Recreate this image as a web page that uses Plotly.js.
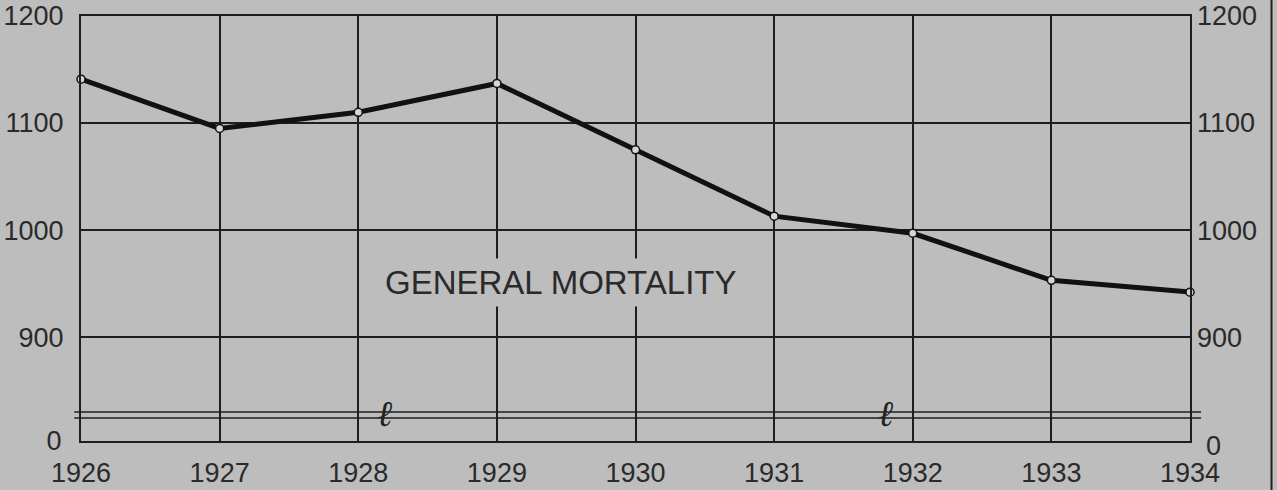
<!DOCTYPE html>
<html>
<head>
<meta charset="utf-8">
<script src="https://cdn.plot.ly/plotly-3.0.1.min.js"></script>
<style>html,body{margin:0;padding:0;background:#bdbdbd;}</style>
</head>
<body>
<div id="chart" style="width:1277px;height:490px;"></div>
<script>
// Data
const years = [1926, 1927, 1928, 1929, 1930, 1931, 1932, 1933, 1934];
const yearLabels = ["1926", "1927", "1928", "1929", "1930", "1931", "1932", "1933", "1934"];
const generalMortality = [1141, 1095, 1110, 1137, 1075, 1013, 997, 953, 942];
const upperTicks = [900, 1000, 1100, 1200];
const upperTickLabels = ["900", "1000", "1100", "1200"];
const lowerTicks = [0];
const lowerTickLabels = ["0"];
const seriesLabel = "GENERAL MORTALITY";

const BG = "#bdbdbd";
const INK = "#1e1e1e";
const TXT = "#2a2a2a";
const FONT = "Liberation Sans, Arial, sans-serif";

const brk = 29 / 425; // fraction of plot height used by the lower (0) band

const traces = [
  {
    x: years, y: generalMortality, xaxis: "x", yaxis: "y",
    type: "scatter", mode: "lines+markers", cliponaxis: false,
    line: {color: "#111", width: 5},
    marker: {symbol: "circle", size: 8, color: "#d6d6d6", line: {color: "#111", width: 1.5}},
    hoverinfo: "x+y", showlegend: false
  },
  {x: [], y: [], xaxis: "x", yaxis: "y3", showlegend: false, hoverinfo: "skip"},
  {x: [], y: [], xaxis: "x2", yaxis: "y2", showlegend: false, hoverinfo: "skip"},
  {x: [], y: [], xaxis: "x2", yaxis: "y4", showlegend: false, hoverinfo: "skip"}
];

const axisFont = {family: FONT, size: 27, color: TXT};

const layout = {
  width: 1277, height: 490,
  margin: {l: 81, r: 87, t: 16, b: 49, pad: 0},
  paper_bgcolor: BG, plot_bgcolor: BG,
  showlegend: false,
  font: {family: FONT, color: TXT},
  xaxis: {
    domain: [0, 1], anchor: "y", side: "top", range: [1926, 1934],
    tickvals: years, showticklabels: false, ticks: "",
    showgrid: true, gridcolor: INK, gridwidth: 2,
    showline: true, mirror: false, linecolor: INK, linewidth: 2, zeroline: false
  },
  xaxis2: {
    domain: [0, 1], anchor: "y2", matches: "x", range: [1926, 1934],
    tickvals: years, ticktext: yearLabels, ticks: "",
    tickfont: axisFont, ticklabelstandoff: 7,
    showgrid: true, gridcolor: INK, gridwidth: 2,
    showline: true, mirror: false, linecolor: INK, linewidth: 2, zeroline: false
  },
  yaxis: {
    domain: [brk, 1], anchor: "x", range: [830, 1200],
    tickvals: upperTicks, ticktext: upperTickLabels, ticks: "",
    tickfont: axisFont, ticklabelstandoff: 10,
    showgrid: true, gridcolor: INK, gridwidth: 2,
    showline: true, mirror: true, linecolor: INK, linewidth: 2, zeroline: false
  },
  yaxis3: {
    overlaying: "y", side: "right", anchor: "x", range: [830, 1200],
    tickvals: upperTicks, ticktext: upperTickLabels, ticks: "",
    tickfont: axisFont, ticklabelstandoff: 6,
    showgrid: false, showline: false, zeroline: false
  },
  yaxis2: {
    domain: [0, brk], anchor: "x2", range: [0, 10],
    tickvals: lowerTicks, ticktext: lowerTickLabels, ticks: "",
    tickfont: axisFont, ticklabelstandoff: 12,
    showgrid: false, showline: true, mirror: true, linecolor: INK, linewidth: 2, zeroline: false
  },
  yaxis4: {
    overlaying: "y2", side: "right", anchor: "x2", range: [0, 10],
    tickvals: lowerTicks, ticktext: lowerTickLabels, ticks: "",
    tickfont: axisFont, ticklabelstandoff: 15, ticklabelshift: 5,
    showgrid: false, showline: false, zeroline: false
  },
  shapes: [
    {type: "line", xref: "paper", yref: "paper", x0: -0.006, x1: 1.01, y0: brk, y1: brk,
     line: {color: INK, width: 1.5}},
    {type: "line", xref: "paper", yref: "paper", x0: -0.006, x1: 1.01, y0: 23 / 425, y1: 23 / 425,
     line: {color: INK, width: 1.5}},
    {type: "line", xref: "paper", yref: "paper", x0: 1.0735, x1: 1.0735, y0: -0.2, y1: 1.1,
     line: {color: "#222", width: 2}}
  ],
  annotations: [
    {text: seriesLabel, xref: "x", yref: "y", x: 1929.46, y: 951, showarrow: false,
     font: {family: FONT, size: 33, color: TXT}, bgcolor: BG, borderpad: 5},
    {text: "<i>ℓ</i>", xref: "x", yref: "paper", x: 1928.19, y: 5 / 425, showarrow: false,
     font: {family: "DejaVu Serif, serif", size: 36, color: "#222"}},
    {text: "<i>ℓ</i>", xref: "x", yref: "paper", x: 1931.8, y: 5 / 425, showarrow: false,
     font: {family: "DejaVu Serif, serif", size: 36, color: "#222"}}
  ]
};

Plotly.newPlot("chart", traces, layout, {displayModeBar: false, staticPlot: true});
</script>
</body>
</html>
